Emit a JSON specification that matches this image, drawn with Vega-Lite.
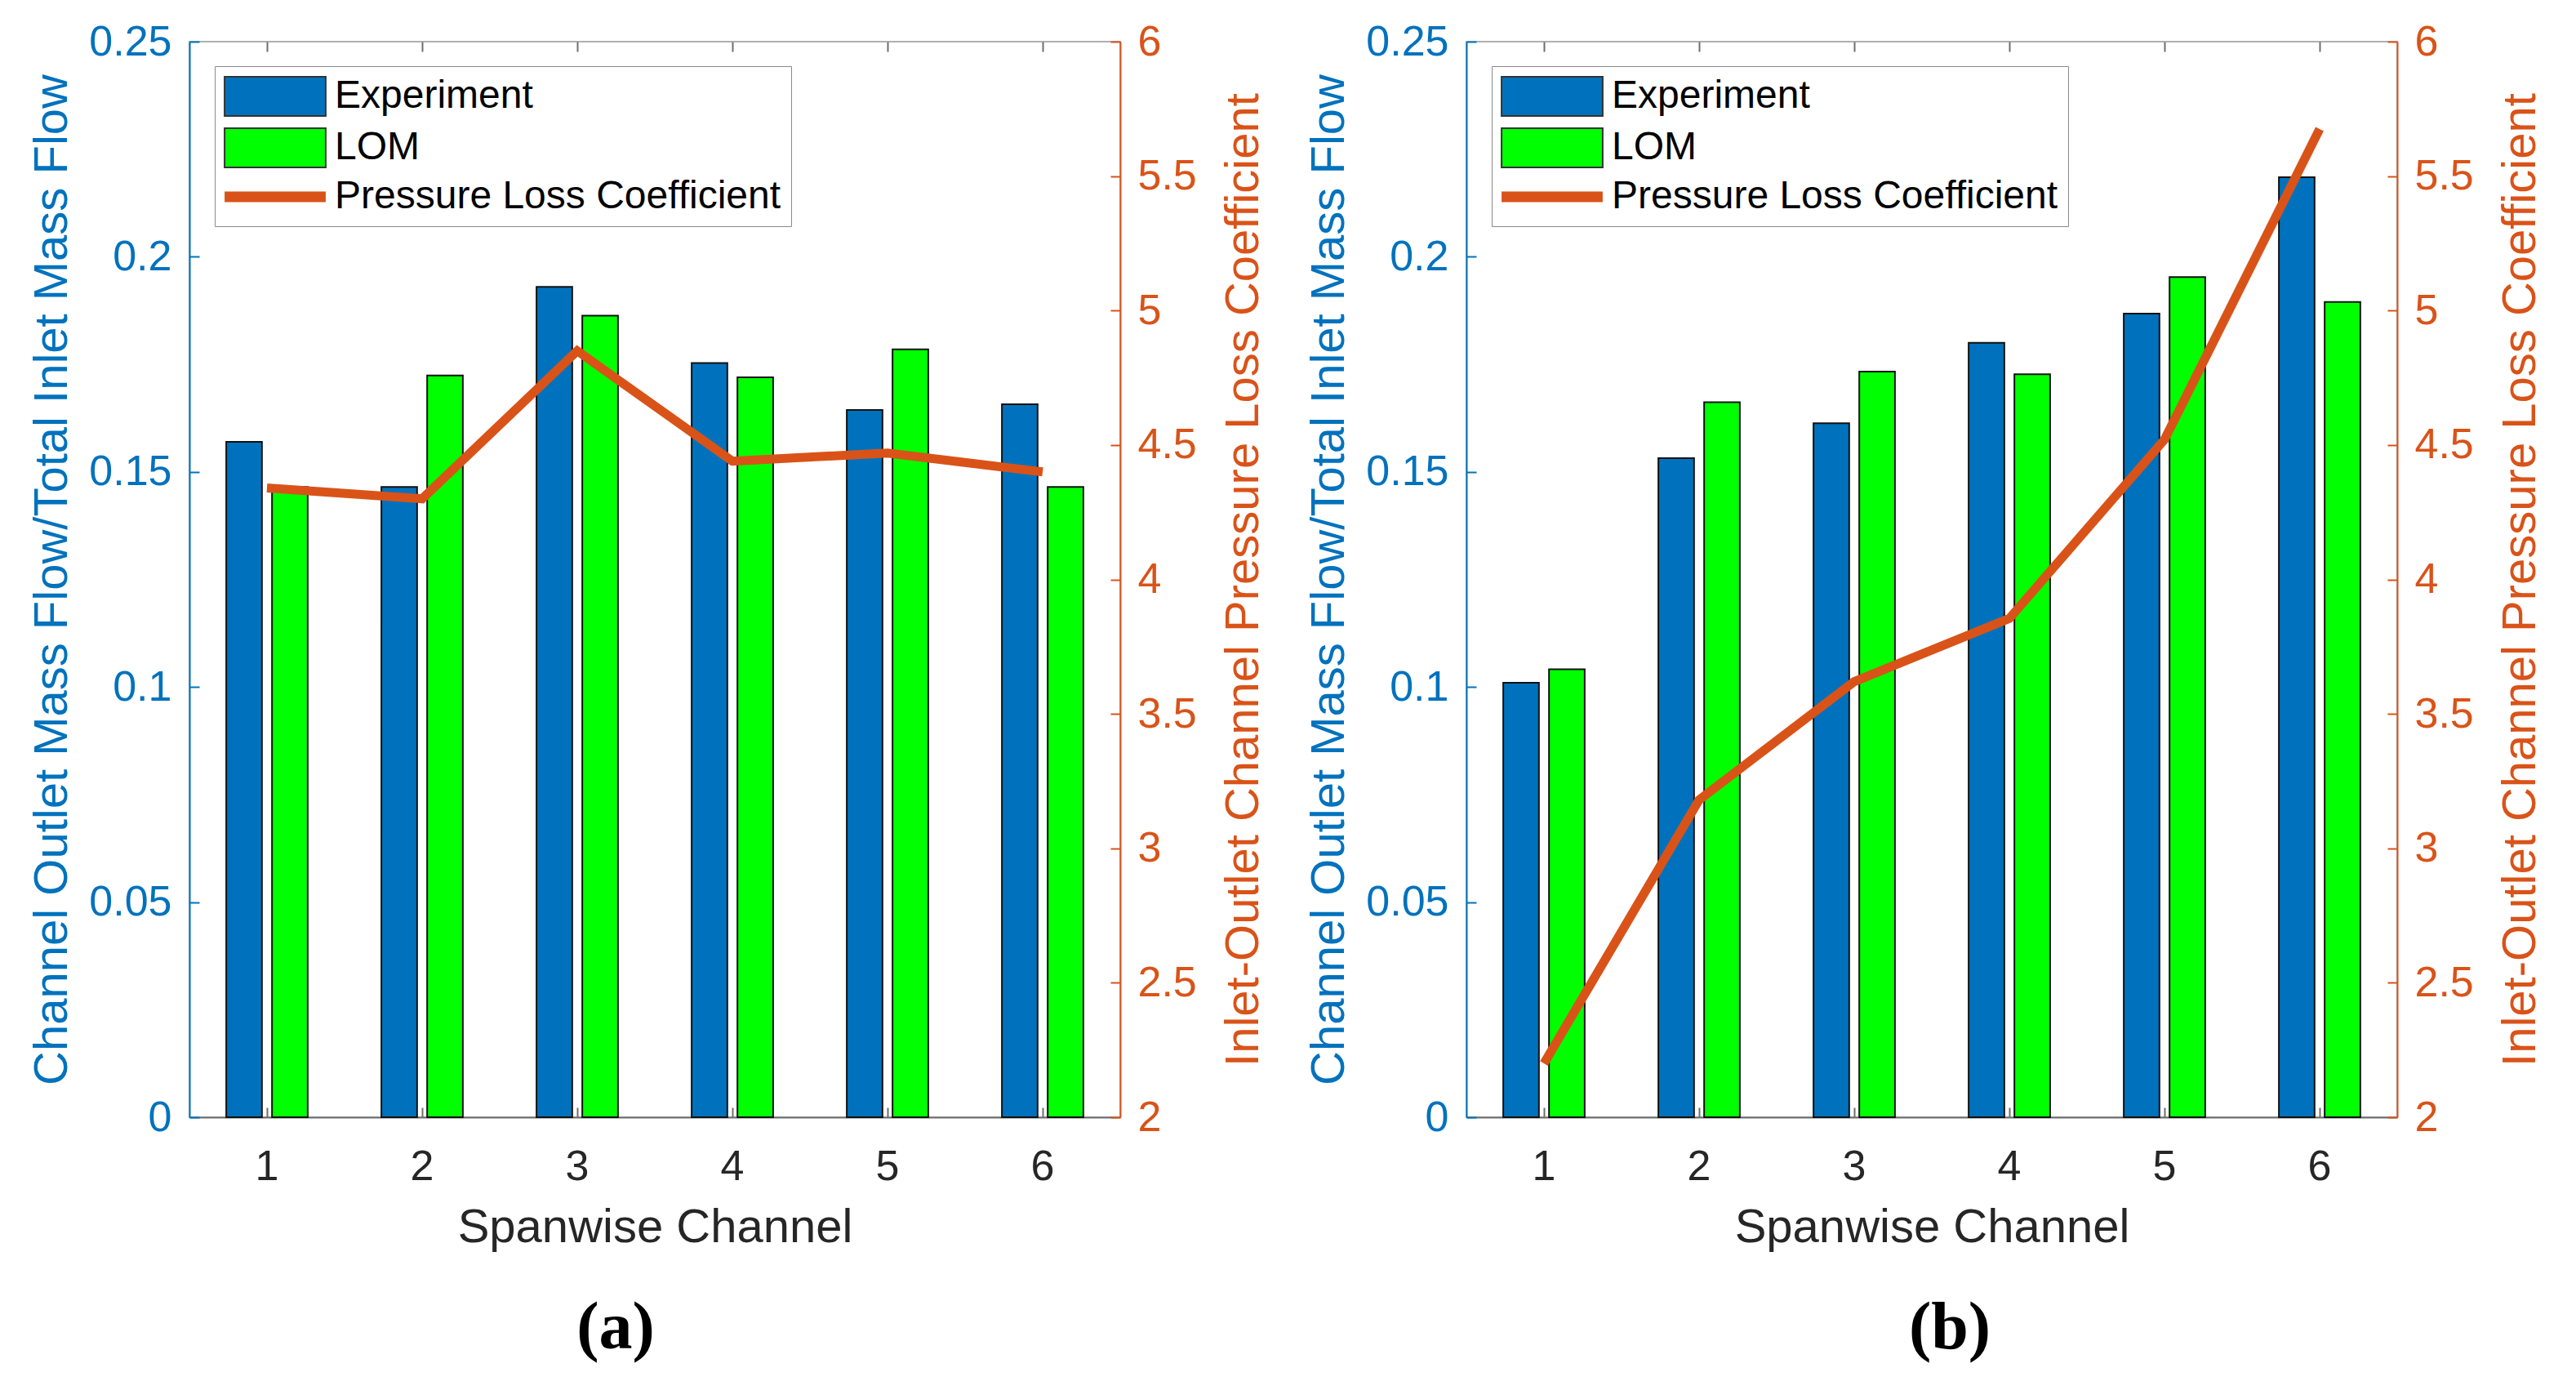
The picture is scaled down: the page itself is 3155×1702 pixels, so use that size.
{
  "$schema": "https://vega.github.io/schema/vega-lite/v6.json",
  "background": "white",
  "padding": {"left": 34, "top": 24, "right": 10, "bottom": 10},
  "datasets": {
    "barsA": [
      {"ch": 1, "series": "Experiment", "value": 0.157}, {"ch": 1, "series": "LOM", "value": 0.1465},
      {"ch": 2, "series": "Experiment", "value": 0.1465}, {"ch": 2, "series": "LOM", "value": 0.1724},
      {"ch": 3, "series": "Experiment", "value": 0.193}, {"ch": 3, "series": "LOM", "value": 0.1863},
      {"ch": 4, "series": "Experiment", "value": 0.1753}, {"ch": 4, "series": "LOM", "value": 0.172},
      {"ch": 5, "series": "Experiment", "value": 0.1644}, {"ch": 5, "series": "LOM", "value": 0.1785},
      {"ch": 6, "series": "Experiment", "value": 0.1657}, {"ch": 6, "series": "LOM", "value": 0.1465}
    ],
    "lineA": [
      {"ch": 1, "k": 4.34}, {"ch": 2, "k": 4.30}, {"ch": 3, "k": 4.85},
      {"ch": 4, "k": 4.44}, {"ch": 5, "k": 4.47}, {"ch": 6, "k": 4.40}
    ],
    "barsB": [
      {"ch": 1, "series": "Experiment", "value": 0.101}, {"ch": 1, "series": "LOM", "value": 0.1041},
      {"ch": 2, "series": "Experiment", "value": 0.1532}, {"ch": 2, "series": "LOM", "value": 0.1662},
      {"ch": 3, "series": "Experiment", "value": 0.1613}, {"ch": 3, "series": "LOM", "value": 0.1733},
      {"ch": 4, "series": "Experiment", "value": 0.18}, {"ch": 4, "series": "LOM", "value": 0.1727},
      {"ch": 5, "series": "Experiment", "value": 0.1868}, {"ch": 5, "series": "LOM", "value": 0.1953},
      {"ch": 6, "series": "Experiment", "value": 0.2185}, {"ch": 6, "series": "LOM", "value": 0.1895}
    ],
    "lineB": [
      {"ch": 1, "k": 2.20}, {"ch": 2, "k": 3.18}, {"ch": 3, "k": 3.62},
      {"ch": 4, "k": 3.855}, {"ch": 5, "k": 4.52}, {"ch": 6, "k": 5.675}
    ]
  },
  "spacing": 44,
  "resolve": {"scale": {"color": "independent"}, "legend": {"color": "independent"}},
  "hconcat": [
    {
      "width": 1140,
      "height": 1317,
      "title": {"text": "(a)", "orient": "bottom", "font": "Liberation Serif", "fontWeight": "bold", "fontSize": 82, "color": "#000000", "anchor": "middle", "frame": "group", "offset": 54, "dx": -48},
      "resolve": {"scale": {"y": "independent"}, "axis": {"x": "independent"}},
      "layer": [
        {
          "data": {"name": "barsA"},
          "mark": {"type": "bar", "stroke": "#111111", "strokeWidth": 2},
          "encoding": {
            "x": {"field": "ch", "type": "ordinal", "scale": {"paddingInner": 0.475, "paddingOuter": 0.2375},
                  "axis": {"orient": "bottom", "title": "Spanwise Channel", "labelAngle": 0, "labelPadding": 47, "titlePadding": 20, "labelColor": "#262626", "titleColor": "#262626", "domainColor": "#6e6e6e", "tickColor": "#6e6e6e"}},
            "xOffset": {"field": "series", "type": "nominal", "scale": {"paddingInner": 0.22, "paddingOuter": 0}},
            "y": {"field": "value", "type": "quantitative", "scale": {"domain": [0, 0.25], "nice": false, "zero": true},
                  "axis": {"orient": "left", "title": "Channel Outlet Mass Flow/Total Inlet Mass Flow", "values": [0, 0.05, 0.1, 0.15, 0.2, 0.25], "format": "~g", "labelPadding": 34, "titlePadding": 15, "labelColor": "#0072BD", "titleColor": "#0072BD", "domainColor": "#0072BD", "tickColor": "#0072BD"}},
            "color": {"field": "series", "type": "nominal",
                      "scale": {"domain": ["Experiment", "LOM", "Pressure Loss Coefficient"], "range": ["#0072BD", "#00FF00", "#D95319"]},
                      "legend": {"orient": "none", "legendX": 31, "legendY": 30, "title": null, "direction": "vertical",
                                 "labelFont": "Liberation Sans", "labelFontSize": 48, "labelColor": "#000000", "labelLimit": 0,
                                 "symbolSize": 2304, "symbolOffset": 37, "labelOffset": 48, "rowPadding": 7, "padding": 12,
                                 "symbolType": {"expr": "datum.value === 'Pressure Loss Coefficient' ? 'M-2.58,-0.27H2.58V0.27H-2.58Z' : 'M-2.58,-1H2.58V1H-2.58Z'"},
                                 "symbolStrokeColor": {"expr": "datum.value === 'Pressure Loss Coefficient' ? 'transparent' : '#333333'"},
                                 "symbolStrokeWidth": 2, "symbolOpacity": 1,
                                 "strokeColor": "#8a8a8a", "fillColor": "#ffffff",
                                 "encode": {"legend": {"strokeWidth": {"value": 2}}}}}
          }
        },
        {
          "data": {"name": "lineA"},
          "mark": {"type": "line", "color": "#D95319", "strokeWidth": 11},
          "encoding": {
            "x": {"field": "ch", "type": "ordinal", "axis": {"orient": "top", "labels": false, "title": null, "domain": false, "tickColor": "#6e6e6e"}},
            "y": {"field": "k", "type": "quantitative", "scale": {"domain": [2, 6], "nice": false, "zero": false},
                  "axis": {"orient": "right", "title": "Inlet-Outlet Channel Pressure Loss Coefficient", "titleAngle": 270, "titleBaseline": "top", "values": [2, 2.5, 3, 3.5, 4, 4.5, 5, 5.5, 6], "format": "~g", "labelPadding": 33, "titlePadding": 29, "labelColor": "#D95319", "titleColor": "#D95319", "domainColor": "#D95319", "tickColor": "#D95319"}}
          }
        }
      ]
    },
    {
      "width": 1140,
      "height": 1317,
      "title": {"text": "(b)", "orient": "bottom", "font": "Liberation Serif", "fontWeight": "bold", "fontSize": 82, "color": "#000000", "anchor": "middle", "frame": "group", "offset": 54, "dx": 22},
      "resolve": {"scale": {"y": "independent"}, "axis": {"x": "independent"}},
      "layer": [
        {
          "data": {"name": "barsB"},
          "mark": {"type": "bar", "stroke": "#111111", "strokeWidth": 2},
          "encoding": {
            "x": {"field": "ch", "type": "ordinal", "scale": {"paddingInner": 0.475, "paddingOuter": 0.2375},
                  "axis": {"orient": "bottom", "title": "Spanwise Channel", "labelAngle": 0, "labelPadding": 47, "titlePadding": 20, "labelColor": "#262626", "titleColor": "#262626", "domainColor": "#6e6e6e", "tickColor": "#6e6e6e"}},
            "xOffset": {"field": "series", "type": "nominal", "scale": {"paddingInner": 0.22, "paddingOuter": 0}},
            "y": {"field": "value", "type": "quantitative", "scale": {"domain": [0, 0.25], "nice": false, "zero": true},
                  "axis": {"orient": "left", "title": "Channel Outlet Mass Flow/Total Inlet Mass Flow", "values": [0, 0.05, 0.1, 0.15, 0.2, 0.25], "format": "~g", "labelPadding": 34, "titlePadding": 15, "labelColor": "#0072BD", "titleColor": "#0072BD", "domainColor": "#0072BD", "tickColor": "#0072BD"}},
            "color": {"field": "series", "type": "nominal",
                      "scale": {"domain": ["Experiment", "LOM", "Pressure Loss Coefficient"], "range": ["#0072BD", "#00FF00", "#D95319"]},
                      "legend": {"orient": "none", "legendX": 31, "legendY": 30, "title": null, "direction": "vertical",
                                 "labelFont": "Liberation Sans", "labelFontSize": 48, "labelColor": "#000000", "labelLimit": 0,
                                 "symbolSize": 2304, "symbolOffset": 37, "labelOffset": 48, "rowPadding": 7, "padding": 12,
                                 "symbolType": {"expr": "datum.value === 'Pressure Loss Coefficient' ? 'M-2.58,-0.27H2.58V0.27H-2.58Z' : 'M-2.58,-1H2.58V1H-2.58Z'"},
                                 "symbolStrokeColor": {"expr": "datum.value === 'Pressure Loss Coefficient' ? 'transparent' : '#333333'"},
                                 "symbolStrokeWidth": 2, "symbolOpacity": 1,
                                 "strokeColor": "#8a8a8a", "fillColor": "#ffffff",
                                 "encode": {"legend": {"strokeWidth": {"value": 2}}}}}
          }
        },
        {
          "data": {"name": "lineB"},
          "mark": {"type": "line", "color": "#D95319", "strokeWidth": 11},
          "encoding": {
            "x": {"field": "ch", "type": "ordinal", "axis": {"orient": "top", "labels": false, "title": null, "domain": false, "tickColor": "#6e6e6e"}},
            "y": {"field": "k", "type": "quantitative", "scale": {"domain": [2, 6], "nice": false, "zero": false},
                  "axis": {"orient": "right", "title": "Inlet-Outlet Channel Pressure Loss Coefficient", "titleAngle": 270, "titleBaseline": "top", "values": [2, 2.5, 3, 3.5, 4, 4.5, 5, 5.5, 6], "format": "~g", "labelPadding": 33, "titlePadding": 29, "labelColor": "#D95319", "titleColor": "#D95319", "domainColor": "#D95319", "tickColor": "#D95319"}}
          }
        }
      ]
    }
  ],
  "config": {
    "font": "Liberation Sans",
    "view": {"stroke": "#b0b0b0", "strokeWidth": 2},
    "axis": {"grid": false, "labelFont": "Liberation Sans", "titleFont": "Liberation Sans", "labelFontSize": 52, "titleFontSize": 58, "titleFontWeight": "normal", "tickSize": -12, "tickWidth": 2, "domainWidth": 2}
  }
}
